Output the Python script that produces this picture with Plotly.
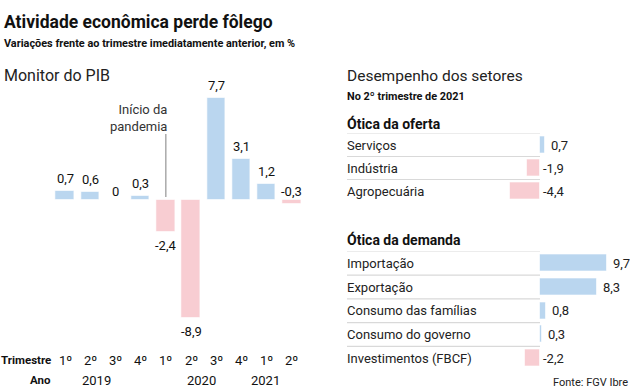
import plotly.graph_objects as go

# ---------------- data ----------------
trimestres = ["1º", "2º", "3º", "4º", "1º", "2º", "3º", "4º", "1º", "2º"]
pib_values = [0.7, 0.6, 0.0, 0.3, -2.4, -8.9, 7.7, 3.1, 1.2, -0.3]
anos = ["2019", "2020", "2021"]
ano_pos = [1.25, 5.4, 7.95]

oferta_labels = ["Serviços", "Indústria", "Agropecuária"]
oferta_values = [0.7, -1.9, -4.4]

demanda_labels = ["Importação", "Exportação", "Consumo das famílias",
                  "Consumo do governo", "Investimentos (FBCF)"]
demanda_values = [9.7, 8.3, 0.8, 0.3, -2.2]

# ---------------- style ----------------
W, H = 630, 388
BLUE = "#bad6ef"
PINK = "#f8cdd2"
FONT = "Roboto"
TXT = "#111111"


def px_x(p):
    return p / W


def px_y(p):
    return 1 - p / H


def col(v):
    return BLUE if v >= 0 else PINK


def fmt(v):
    s = ("%.1f" % v).replace(".", ",")
    if v == 0:
        s = "0"
    return s


fig = go.Figure()

edge = dict(color="rgba(255,255,255,0.6)", width=1)

idx = list(range(len(pib_values)))
fig.add_trace(go.Bar(
    x=idx, y=pib_values, width=0.73,
    marker=dict(color=[col(v) for v in pib_values], line=edge),
    xaxis="x", yaxis="y", hoverinfo="skip", showlegend=False))

fig.add_trace(go.Bar(
    y=list(range(len(oferta_values))), x=oferta_values, orientation="h", width=0.74,
    marker=dict(color=[col(v) for v in oferta_values], line=edge),
    xaxis="x2", yaxis="y2", hoverinfo="skip", showlegend=False))
fig.add_trace(go.Bar(
    y=list(range(len(demanda_values))), x=demanda_values, orientation="h", width=0.72,
    marker=dict(color=[col(v) for v in demanda_values], line=edge),
    xaxis="x3", yaxis="y3", hoverinfo="skip", showlegend=False))

ann = []
shapes = []


def txt(x, y, text, size, xref="paper", yref="paper", xanchor="left", yanchor="middle",
        color=TXT, **kw):
    ann.append(dict(x=x, y=y, xref=xref, yref=yref, text=text, showarrow=False,
                    xanchor=xanchor, yanchor=yanchor,
                    font=dict(size=size, color=color, family=FONT), **kw))


# value labels left chart
for i, v in enumerate(pib_values):
    if v < -1:
        txt(i, v, fmt(v), 13, xref="x", yref="y", xanchor="center", yanchor="top", yshift=-4)
    elif v <= 0:
        txt(i, 0, fmt(v), 13, xref="x", yref="y", xanchor="center", yanchor="bottom", yshift=-1)
    else:
        txt(i, v, fmt(v), 13, xref="x", yref="y", xanchor="center", yanchor="bottom", yshift=3)

# tick labels
for i, t in enumerate(trimestres):
    txt(i, px_y(360), t, 13, xref="x", xanchor="center")
for a, p in zip(anos, ano_pos):
    txt(p, px_y(380), a, 13, xref="x", xanchor="center")
txt(px_x(53), px_y(360), "<b>Trimestre</b>", 11.5, xanchor="right")
txt(px_x(53), px_y(380), "<b>Ano</b>", 11.5, xanchor="right")

# pandemic annotation
shapes.append(dict(type="line", xref="x", yref="paper", x0=4, x1=4,
                   y0=px_y(134), y1=px_y(197), line=dict(color="#aaaaaa", width=1.5)))
txt(px_x(169), px_y(118), "Início da<br>pandemia", 13, xanchor="right", align="right",
    color="#333333")

# titles
txt(px_x(2), px_y(22), "<b>Atividade econômica perde fôlego</b>", 17.5)
txt(px_x(2), px_y(43), "<b>Variações frente ao trimestre imediatamente anterior, em %</b>", 10.9)
txt(px_x(2), px_y(76), "Monitor do PIB", 16, color="#222222")
txt(px_x(345), px_y(76), "Desempenho dos setores", 15.5, color="#222222")
txt(px_x(345), px_y(96), "<b>No 2º trimestre de 2021</b>", 10.9)
txt(px_x(345), px_y(123), "<b>Ótica da oferta</b>", 14)
txt(px_x(345), px_y(239), "<b>Ótica da demanda</b>", 14)
txt(px_x(630), px_y(382), "Fonte: FGV Ibre", 11, xanchor="right", color="#222222")

# right rows
for labels, values, xr, yr in [(oferta_labels, oferta_values, "x2", "y2"),
                               (demanda_labels, demanda_values, "x3", "y3")]:
    for i, (lab, v) in enumerate(zip(labels, values)):
        txt(px_x(345), i, lab, 13, yref=yr, color="#222222")
        txt(max(v, 0), i, fmt(v), 13, xref=xr, yref=yr, color="#222222",
            xshift=4 if v > 0 else 1)
        shapes.append(dict(type="line", xref="paper", yref=yr, x0=px_x(347), x1=px_x(540),
                           y0=i - 0.5, y1=i - 0.5, line=dict(color="#d9d9d9", width=1.2)))

# axes geometry
xl0, xl1 = 65 - 0.5 * 25.2, 65 + 9.5 * 25.2
yt, yb = 90, 330
ytop = (200 - yt) / 13.3
ybot = -(yb - 200) / 13.3
xr0, xr1 = 500, 620
xr_range = [-(540 - xr0) / 6.9, (xr1 - 540) / 6.9]

hidden = dict(showgrid=False, zeroline=False, showticklabels=False, ticks="", showline=False,
              fixedrange=True)

fig.update_layout(
    width=W, height=H, margin=dict(l=0, r=0, t=0, b=0),
    paper_bgcolor="white", plot_bgcolor="white",
    bargap=0,
    xaxis=dict(domain=[px_x(xl0), px_x(xl1)], range=[-0.5, 9.5], **hidden),
    yaxis=dict(domain=[px_y(yb), px_y(yt)], range=[ybot, ytop], **hidden),
    xaxis2=dict(domain=[px_x(xr0), px_x(xr1)], range=xr_range, anchor="y2", **hidden),
    yaxis2=dict(domain=[px_y(202.5), px_y(133.5)], range=[2.5, -0.5], anchor="x2", **hidden),
    xaxis3=dict(domain=[px_x(xr0), px_x(xr1)], range=xr_range, anchor="y3", **hidden),
    yaxis3=dict(domain=[px_y(370), px_y(251.5)], range=[4.5, -0.5], anchor="x3", **hidden),
    annotations=ann, shapes=shapes,
    font=dict(family=FONT),
)

fig.write_html("out.html", config={"displayModeBar": False},
               post_script="document.body.style.margin='0';")
